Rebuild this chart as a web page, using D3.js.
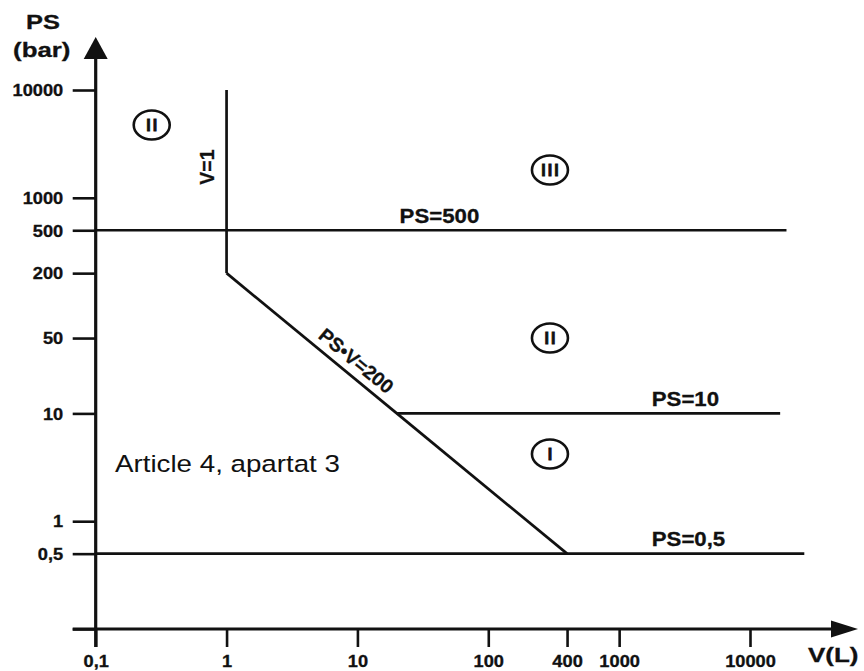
<!DOCTYPE html>
<html>
<head>
<meta charset="utf-8">
<script src="https://cdn.jsdelivr.net/npm/d3@7"></script>
<style>
body { margin: 0; background: #fff; }
svg { display: block; }
</style>
</head>
<body>
<script>
// ticks
const xTicks = [0.1, 1, 10, 100, 400, 1000, 10000]
const xTickLabels = ["0,1", "1", "10", "100", "400", "1000", "10000"]
const yTicks = [0.1, 0.5, 1, 10, 50, 200, 500, 1000, 10000]
const yTickLabels = ["", "0,5", "1", "10", "50", "200", "500", "1000", "10000"]

// boundary lines, [V, PS] points
const lineV1 = [[1, 10000], [1, 200]]
const linePSV = [[1, 200], [20, 10], [400, 0.5]]
const linePS500 = [[0.1, 500], [19000, 500]]
const linePS10 = [[20, 10], [17000, 10]]
const linePS05 = [[0.1, 0.5], [26000, 0.5]]

// labels on the lines
const lineLabels = [
    {text: "PS=500", v: 21, ps: 500},
    {text: "PS=10", v: 1775, ps: 10},
    {text: "PS=0,5", v: 1775, ps: 0.5}
]
// category marks
const categories = [
    {text: "II", v: 0.268, ps: 4730},
    {text: "III", v: 296, ps: 1810},
    {text: "II", v: 296, ps: 50},
    {text: "I", v: 296, ps: 4.2}
]
const noteText = "Article 4, apartat 3"
const notePos = {v: 0.1405, ps: 2.88}

const FONT = '"Liberation Sans", Arial, Helvetica, sans-serif'
const INK = "#111"
const SX = 1.14

window.onload = function () {
    let vis = {}
    vis.width = 864
    vis.height = 671

    vis.svg = d3.select("body").append("svg")
        .attr("width", vis.width)
        .attr("height", vis.height)
        .attr("font-family", FONT)

    vis.x = d3.scaleLog().domain([0.1, 10000]).range([95.7, 750])
    vis.y = d3.scaleLog().domain([0.1, 10000]).range([629, 90])

    drawAxes(vis)
    drawLines(vis)
    drawLabels(vis)
}

function drawAxes(vis) {
    const x = vis.x, y = vis.y
    const x0 = x(0.1), y0 = y(0.1)

    const xAxis = vis.svg.append("g")
        .attr("transform", `translate(0,${y0})`)
        .call(d3.axisBottom(x).tickValues(xTicks)
            .tickFormat(d => xTickLabels[xTicks.indexOf(d)])
            .tickSize(18).tickSizeOuter(0))
        .attr("font-family", FONT)
        .attr("font-size", 16)
        .attr("font-weight", "bold")
    xAxis.select(".domain").remove()
    xAxis.selectAll(".tick line").attr("stroke", INK).attr("stroke-width", 2.6)
    xAxis.selectAll(".tick text")
        .attr("y", 0).attr("dy", null)
        .attr("fill", INK)
        .attr("stroke", INK).attr("stroke-width", 0.3)
        .attr("transform", `translate(0,38) scale(${SX},1)`)

    const yAxis = vis.svg.append("g")
        .attr("transform", `translate(${x0},0)`)
        .call(d3.axisLeft(y).tickValues(yTicks)
            .tickFormat(d => yTickLabels[yTicks.indexOf(d)])
            .tickSize(23).tickSizeOuter(0))
        .attr("font-family", FONT)
        .attr("font-size", 16)
        .attr("font-weight", "bold")
    yAxis.select(".domain").remove()
    yAxis.selectAll(".tick line").attr("stroke", INK).attr("stroke-width", 2.6)
    yAxis.selectAll(".tick text")
        .attr("x", 0).attr("dy", "0.36em")
        .attr("fill", INK)
        .attr("stroke", INK).attr("stroke-width", 0.3)
        .attr("transform", `translate(-32.5,0) scale(${SX},1)`)

    // axis lines with arrow heads
    const axes = vis.svg.append("g").attr("stroke", INK).attr("stroke-width", 3.2)
    axes.append("line")
        .attr("x1", x0 - 23).attr("x2", 834)
        .attr("y1", y0).attr("y2", y0)
    axes.append("line")
        .attr("x1", x0).attr("x2", x0)
        .attr("y1", y0 + 18).attr("y2", 56)
    vis.svg.append("path")
        .attr("fill", INK)
        .attr("d", `M858,${y0} L831,${y0 - 8.5} L831,${y0 + 8.5} Z`)
    vis.svg.append("path")
        .attr("fill", INK)
        .attr("d", `M${x0},37 L${x0 - 12},59 L${x0 + 12},59 Z`)

    // axis titles
    const titles = vis.svg.append("g")
        .attr("font-weight", "bold").attr("fill", INK)
        .attr("stroke", INK).attr("stroke-width", 0.3)
    titles.append("text")
        .attr("transform", `translate(43,28.5) scale(1.27,1)`)
        .attr("text-anchor", "middle")
        .attr("font-size", 20)
        .text("PS")
    titles.append("text")
        .attr("transform", `translate(41.7,57) scale(1.23,1)`)
        .attr("text-anchor", "middle")
        .attr("font-size", 21)
        .text("(bar)")
    titles.append("text")
        .attr("transform", `translate(808,662) scale(1.3,1)`)
        .attr("font-size", 20)
        .text("V(L)")
}

function drawLines(vis) {
    const line = d3.line().x(d => vis.x(d[0])).y(d => vis.y(d[1]))

    vis.svg.append("g")
        .attr("fill", "none")
        .attr("stroke", INK)
        .attr("stroke-width", 2.7)
        .attr("stroke-linejoin", "miter")
        .selectAll("path")
        .data([lineV1, linePSV, linePS500, linePS10, linePS05])
        .join("path")
        .attr("d", d => line(d))
}

function drawLabels(vis) {
    const x = vis.x, y = vis.y

    const labels = vis.svg.append("g")
        .attr("font-size", 19.5).attr("font-weight", "bold")
        .attr("fill", INK).attr("stroke", INK).attr("stroke-width", 0.3)

    labels.selectAll("text.on-line")
        .data(lineLabels)
        .join("text")
        .attr("class", "on-line")
        .attr("transform", d => `translate(${x(d.v)},${y(d.ps) - 7.5}) scale(${SX},1)`)
        .text(d => d.text)

    // V=1, vertical
    labels.append("text")
        .attr("transform", `translate(${x(1) - 12.5},${y(1930)}) rotate(-90)`)
        .attr("text-anchor", "middle")
        .text("V=1")

    // PS·V=200 along the slope
    const angle = Math.atan2(y(0.5) - y(200), x(400) - x(1)) * 180 / Math.PI
    const vMid = 8.3
    labels.append("text")
        .attr("transform", `translate(${x(vMid)},${y(200 / vMid)}) rotate(${angle})`)
        .attr("y", -8)
        .attr("text-anchor", "middle")
        .text("PS\u2022V=200")

    // category marks
    const cat = vis.svg.append("g")
        .selectAll("g")
        .data(categories)
        .join("g")
        .attr("transform", d => `translate(${x(d.v)},${y(d.ps)})`)
    cat.append("ellipse")
        .attr("rx", 18).attr("ry", 14.5)
        .attr("fill", "none")
        .attr("stroke", INK)
        .attr("stroke-width", 2.6)
    cat.append("text")
        .attr("text-anchor", "middle")
        .attr("x", 1)
        .attr("dy", "0.36em")
        .attr("letter-spacing", 2)
        .attr("font-size", 16).attr("font-weight", "bold")
        .attr("fill", INK).attr("stroke", INK).attr("stroke-width", 0.8)
        .text(d => d.text)

    vis.svg.append("text")
        .attr("transform", `translate(${x(notePos.v)},${y(notePos.ps)}) scale(1.18,1)`)
        .attr("font-size", 23.5).attr("fill", INK)
        .text(noteText)
}
</script>
</body>
</html>
